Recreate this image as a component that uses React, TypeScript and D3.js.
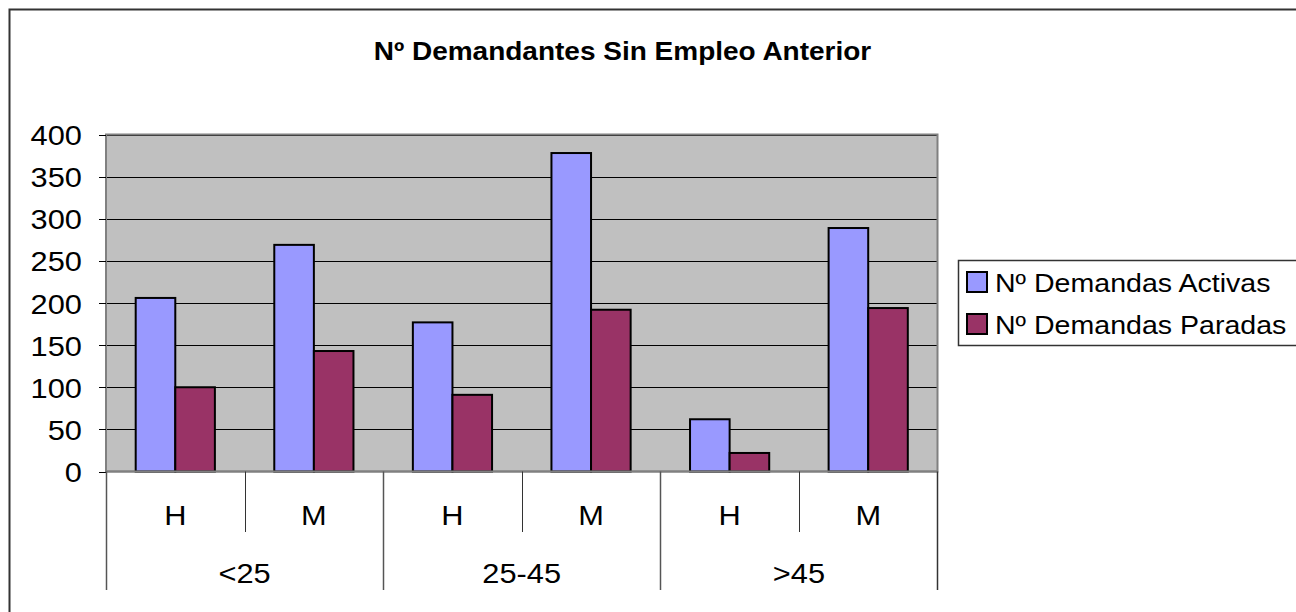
import React from "react";
import * as d3 from "d3";

const title = "Nº Demandantes Sin Empleo Anterior";
const groups = ["<25", "25-45", ">45"];
const subs = ["H", "M"];
const seriesNames = ["Nº Demandas Activas", "Nº Demandas Paradas"];
const activas = [206, 269, 177, 378, 62, 289];
const paradas = [100, 143, 91, 192, 22, 194];
const yTicks = [0, 50, 100, 150, 200, 250, 300, 350, 400];
const colors = ["#9999FF", "#993366"];

const SX = 1.12;

function T({ x, y, anchor = "start", size, bold = false, children }: any) {
  return (
    <text transform={`translate(${x},${y}) scale(${SX},1)`} textAnchor={anchor} fontSize={size}
      fontWeight={bold ? "bold" : "normal"} fill="#000">{children}</text>
  );
}

export default function App() {
  const W = 1296, H = 612;
  const left = 106, right = 937.5, top = 134.5, bottom = 471.5;
  const cats = groups.flatMap((g) => subs.map((s) => `${g}|${s}`));
  const x = d3.scaleBand<string>().domain(cats).range([left, right]).padding(0);
  const xs = d3.scaleBand<string>().domain(seriesNames).range([0, x.bandwidth()]).paddingInner(0).paddingOuter(0.75);
  const y = d3.scaleLinear().domain([0, 400]).range([bottom, top]);
  const gx = d3.scaleBand<string>().domain(groups).range([left, right]).padding(0);
  const font = "'Liberation Sans', Arial, sans-serif";
  const data = [activas, paradas];

  return (
    <svg width={W} height={H} style={{ position: "absolute", left: 0, top: 0 }} fontFamily={font}>
      <rect x={0} y={0} width={W} height={H} fill="#fff" />
      <rect x={9.5} y={9.5} width={W + 20} height={H + 20} fill="none" stroke="#333" strokeWidth={2} />
      <T x={622.5} y={59.5} anchor="middle" size={25} bold>{title}</T>
      <rect x={left} y={top} width={right - left} height={bottom - top} fill="#C0C0C0" />
      {yTicks.filter((t) => t > 0).map((t) => (
        <line key={"g" + t} x1={left} x2={right} y1={Math.round(y(t)) + 0.5} y2={Math.round(y(t)) + 0.5} stroke="#000" strokeWidth={1} />
      ))}
      <rect x={left} y={top} width={right - left} height={bottom - top} fill="none" stroke="#808080" strokeWidth={2} />
      {yTicks.map((t) => (
        <g key={"t" + t}>
          <line x1={99} x2={left} y1={Math.round(y(t)) + 0.5} y2={Math.round(y(t)) + 0.5} stroke="#000" />
          <T x={82} y={y(t) + 10.5} anchor="end" size={27.5}>{t}</T>
        </g>
      ))}
      {data.map((vals, si) =>
        vals.map((v, ci) => (
          <rect key={`b${si}-${ci}`} x={(x(cats[ci]) as number) + (xs(seriesNames[si]) as number)} y={y(v)}
            width={xs.bandwidth()} height={bottom - y(v)} fill={colors[si]} stroke="#000" strokeWidth={2} />
        ))
      )}
      <line x1={left} x2={right} y1={bottom} y2={bottom} stroke="#808080" strokeWidth={2} />
      {cats.map((c, i) => (
        <g key={"c" + c}>
          {i % 2 === 1 && (
            <line x1={Math.round(x(c) as number) + 0.5} x2={Math.round(x(c) as number) + 0.5} y1={bottom} y2={532} stroke="#333" />
          )}
          <T x={(x(c) as number) + x.bandwidth() / 2} y={524.5} anchor="middle" size={27.5}>{c.split("|")[1]}</T>
        </g>
      ))}
      {groups.map((g) => (
        <g key={"gr" + g}>
          <line x1={Math.round(gx(g) as number) + 0.5} x2={Math.round(gx(g) as number) + 0.5} y1={bottom} y2={590} stroke="#555" strokeWidth={1.5} />
          <T x={(gx(g) as number) + gx.bandwidth() / 2} y={582.5} anchor="middle" size={27.5}>{g}</T>
        </g>
      ))}
      <line x1={right} x2={right} y1={bottom} y2={590} stroke="#333" strokeWidth={1.5} />
      <rect x={958.5} y={260.5} width={400} height={85} fill="#fff" stroke="#333" strokeWidth={1.5} />
      {seriesNames.map((s, i) => (
        <g key={"l" + s}>
          <rect x={967} y={272 + i * 42} width={20} height={20} fill={colors[i]} stroke="#000" strokeWidth={2} />
          <T x={995} y={291.5 + i * 42} size={25.5}>{s}</T>
        </g>
      ))}
    </svg>
  );
}
